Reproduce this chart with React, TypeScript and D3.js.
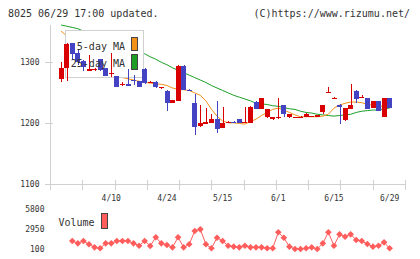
import React from 'react';
import * as d3 from 'd3';

// daily prices, oldest first
const opens = [1271, 1289, 1330, 1314, 1301, 1285, 1286, 1304, 1289, 1280, 1276, 1262, 1263, 1270, 1268, 1288, 1266, 1267, 1257, 1252,
  1233, 1236, 1293, 1254, 1232, 1195, 1198, 1200, 1206, 1192, 1199, 1202, 1206, 1199, 1200, 1234, 1223, 1209, 1206, 1208,
  1229, 1209, 1208, 1208, 1209, 1210, 1210, 1217, 1248, 1240, 1230, 1204, 1223, 1252, 1240, 1241, 1225, 1236, 1210, 1241];
const highs = [1299, 1331, 1331, 1320, 1302, 1311, 1289, 1305, 1290, 1314, 1277, 1267, 1288, 1278, 1269, 1289, 1268, 1268, 1259, 1253,
  1237, 1294, 1294, 1255, 1247, 1229, 1225, 1214, 1236, 1226, 1203, 1203, 1207, 1226, 1227, 1235, 1241, 1223, 1210, 1241,
  1230, 1215, 1210, 1211, 1216, 1212, 1213, 1229, 1259, 1243, 1231, 1225, 1263, 1254, 1245, 1241, 1236, 1236, 1241, 1241];
const lows = [1266, 1269, 1303, 1294, 1284, 1284, 1285, 1285, 1276, 1275, 1258, 1261, 1260, 1262, 1258, 1264, 1265, 1257, 1256, 1219,
  1233, 1235, 1254, 1252, 1180, 1194, 1198, 1200, 1183, 1191, 1199, 1199, 1199, 1199, 1199, 1223, 1223, 1208, 1205, 1206,
  1209, 1208, 1208, 1208, 1209, 1209, 1210, 1215, 1248, 1240, 1198, 1203, 1223, 1232, 1240, 1223, 1225, 1220, 1210, 1225];
const closes = [1289, 1329, 1312, 1300, 1292, 1288, 1288, 1286, 1277, 1282, 1259, 1264, 1261, 1268, 1259, 1265, 1267, 1258, 1259, 1233,
  1237, 1293, 1254, 1253, 1194, 1199, 1202, 1206, 1190, 1200, 1201, 1199, 1199, 1202, 1226, 1223, 1240, 1223, 1210, 1210,
  1214, 1215, 1210, 1210, 1215, 1212, 1213, 1229, 1251, 1241, 1226, 1224, 1229, 1239, 1242, 1223, 1236, 1220, 1241, 1225];

// moving averages
const ma5 = [1350, 1342, 1332, 1318, 1306, 1302, 1296, 1291, 1286, 1282, 1277, 1274, 1272, 1270, 1268, 1266, 1265, 1264, 1263, 1261,
  1257, 1255, 1254, 1253, 1249, 1245, 1236, 1222, 1211, 1203, 1200, 1200, 1199, 1198, 1202, 1206, 1212, 1217, 1222, 1224,
  1221, 1217, 1213, 1210, 1210, 1210, 1210, 1211, 1214, 1224, 1229, 1232, 1234, 1234, 1233, 1230, 1229, 1229, 1226, 1225];
const ma25 = [1360, 1358, 1356, 1354, 1350, 1346, 1343, 1339, 1336, 1332, 1329, 1325, 1322, 1318, 1316, 1313, 1308, 1304, 1299, 1295,
  1290, 1286, 1282, 1278, 1274, 1270, 1266, 1261, 1257, 1253, 1249, 1245, 1242, 1239, 1236, 1232, 1231, 1230, 1228, 1227,
  1225, 1223, 1222, 1219, 1217, 1216, 1214, 1213, 1212, 1211, 1212, 1213, 1214, 1217, 1219, 1220, 1221, 1221, 1223, 1224];

// volume (first two days not plotted)
const volumes = [null, null, 1240, 910, 1240, 770, 340, 200, 910, 910, 1240, 1240, 1240, 910, 570, 1240, 530, 1770, 910, 670,
  340, 1770, 340, 770, 2670, 2900, 770, 200, 1710, 1240, 570, 430, 340, 570, 340, 340, 340, 200, 200, 2480,
  1710, 430, 100, 100, 200, 340, 100, 910, 2480, 570, 2190, 1850, 2190, 1380, 1240, 810, 430, 570, 1050, 200];

const priceTicks = [1100, 1200, 1300];
const volTicks = [100, 2950, 5800];
const dateTickIdx = [9, 19, 29, 39, 49, 59];
const dateTickLabels = ['4/10', '4/24', '5/15', '6/1', '6/15', '6/29'];

const W = 420;
const H = 259;
const FONT = '"DejaVu Sans Mono", monospace';
const UP = '#d80000';
const DOWN = '#4343c3';
const C5 = '#f29018';
const C25 = '#1c9e26';
const VOL = '#ff5c5c';
const AXIS = '#d0d0d0';

export default function App() {
  const n = closes.length;
  const x = d3.scaleLinear().domain([-2, 61.76]).range([50, 405]);
  const y = d3.scaleLinear().domain([1100, 1360]).range([184, 25]);
  const yv = d3.scaleLinear().domain([100, 5800]).range([249, 209]);

  const idx = d3.range(n);
  const maLine = (arr: number[]) =>
    d3.line<number>().x(i => x(i)).y(i => y(arr[i]))(idx) || '';
  const volLine = d3.line<number>()
    .defined(i => volumes[i] != null)
    .x(i => x(i))
    .y(i => yv(volumes[i] as number))(idx) || '';
  const diamond = d3.symbol(d3.symbolSquare, 22)() || '';

  const xTicks = d3.range(12).map(k => 50 + k * (355 / 11));

  return (
    <svg width={W} height={H} style={{ position: 'absolute', left: 0, top: 0 }}>
      <rect width={W} height={H} fill="#fff" />
      <text x={8} y={16.5} fontFamily={FONT} fontSize={10} fill="#333">8025 06/29 17:00 updated.</text>
      <text x={410} y={16.5} fontFamily={FONT} fontSize={10} fill="#333" textAnchor="end">(C)https://www.rizumu.net/</text>

      {/* axes */}
      <g shapeRendering="crispEdges" stroke={AXIS}>
        <line x1={50.5} x2={50.5} y1={25} y2={190} />
        <line x1={45} x2={405} y1={184.5} y2={184.5} />
        {priceTicks.map(t => (
          <line key={t} x1={45} x2={53} y1={Math.round(y(t)) + 0.5} y2={Math.round(y(t)) + 0.5} />
        ))}
        {xTicks.map((t, k) => (
          <line key={k} x1={Math.round(t) + 0.5} x2={Math.round(t) + 0.5} y1={180} y2={190} />
        ))}
      </g>
      {priceTicks.map(t => (
        <text key={t} x={39.5} y={y(t) + 3} fontFamily={FONT} fontSize={8} fill="#333" textAnchor="end">{t}</text>
      ))}
      {dateTickIdx.map((d, k) => (
        <text key={d} x={x(d)} y={200.5} fontFamily={FONT} fontSize={8} fill="#333" textAnchor="middle">{dateTickLabels[k]}</text>
      ))}

      {/* moving averages */}
      <path d={maLine(ma25)} fill="none" stroke={C25} strokeWidth={1} />
      <path d={maLine(ma5)} fill="none" stroke={C5} strokeWidth={1} />

      {/* legend frame sits over the averages, candles go on top */}
      <rect x={65.5} y={30.5} width={78} height={47} fill="#fff" stroke={AXIS} shapeRendering="crispEdges" />

      {/* candles */}
      <g shapeRendering="crispEdges">
        {idx.map(i => {
          const up = closes[i] >= opens[i];
          const col = up ? UP : DOWN;
          const cx = x(i);
          const top = y(Math.max(opens[i], closes[i]));
          const bot = y(Math.min(opens[i], closes[i]));
          return (
            <g key={i} fill={col}>
              <rect x={Math.round(cx)} y={y(highs[i])} width={1} height={Math.max(1, y(lows[i]) - y(highs[i]))} />
              <rect x={Math.round(cx - 2.4)} y={top} width={5} height={Math.max(1.2, bot - top)} />
            </g>
          );
        })}
      </g>

      {/* legend */}
      <g fontFamily={FONT} fontSize={10} fill="#333">
        <text x={125} y={49.5} textAnchor="end">5-day MA</text>
        <text x={125} y={67} textAnchor="end">25-day MA</text>
      </g>
      <rect x={131.5} y={37.5} width={6} height={12.5} fill={C5} stroke="#444" shapeRendering="crispEdges" />
      <rect x={131.5} y={54.5} width={6} height={14.5} fill={C25} stroke="#444" shapeRendering="crispEdges" />

      {/* volume panel */}
      {volTicks.map(t => (
        <text key={t} x={44.5} y={yv(t) + 3} fontFamily={FONT} fontSize={8} fill="#333" textAnchor="end">{t}</text>
      ))}
      <text x={58.5} y={226} fontFamily={FONT} fontSize={10} fill="#333">Volume</text>
      <rect x={101.5} y={213.5} width={6} height={15} fill={VOL} stroke="#444" shapeRendering="crispEdges" />
      <path d={volLine} fill="none" stroke={VOL} strokeWidth={1} />
      {idx.filter(i => volumes[i] != null).map(i => (
        <path key={i} d={diamond} fill={VOL}
          transform={`translate(${x(i)},${yv(volumes[i] as number)}) rotate(45)`} />
      ))}
    </svg>
  );
}
